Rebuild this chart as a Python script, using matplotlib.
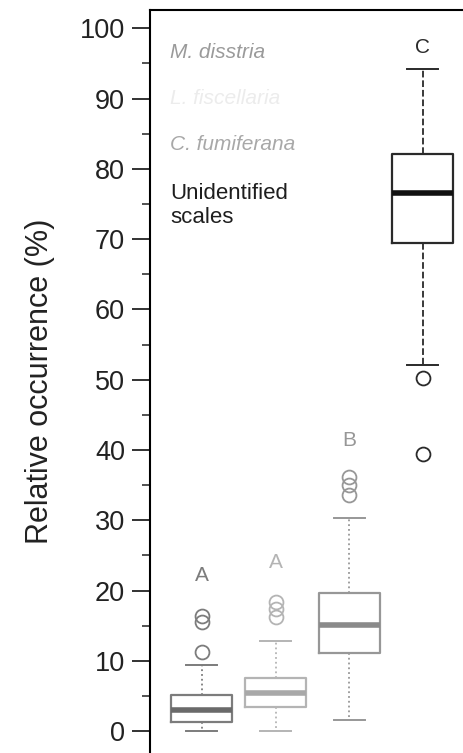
import matplotlib
matplotlib.use("Agg")
import matplotlib.pyplot as plt
from matplotlib.ticker import MultipleLocator

plt.rcParams['font.family'] = ['Liberation Sans', 'DejaVu Sans']

# box statistics (relative occurrence, %)
groups = ['M. disstria', 'L. fiscellaria', 'C. fumiferana', 'Unidentified\nscales']
q1 = [1.3, 3.4, 11.1, 69.4]
med = [3.0, 5.4, 15.1, 76.5]
q3 = [5.1, 7.5, 19.6, 82.1]
whislo = [0.1, 0.1, 1.6, 52.1]
whishi = [9.4, 12.8, 30.3, 94.2]
fliers = [[11.2, 15.6, 16.4], [16.2, 17.4, 18.4], [33.6, 35.0, 36.1], [50.2, 39.5]]
letters = ['A', 'A', 'B', 'C']
letter_y = [22.2, 24.0, 41.4, 97.3]

box_colors = ['#7c7c7c', '#b4b4b4', '#979797', '#2a2a2a']
med_colors = ['#6a6a6a', '#a8a8a8', '#8a8a8a', '#111111']
legend_colors = ['#9a9a9a', '#ececec', '#a8a8a8', '#1e1e1e']
legend_y = [96.6, 90.0, 83.4, 74.8]

fig = plt.figure(figsize=(4.64, 7.53), dpi=100)
ax = fig.add_axes([150 / 464, 0, 1 - 150 / 464, 1 - 10 / 753])

for i in range(4):
    stats = [dict(q1=q1[i], med=med[i], q3=q3[i], whislo=whislo[i],
                  whishi=whishi[i], fliers=fliers[i])]
    c = box_colors[i]
    ls = '--' if i == 3 else ':'
    ax.bxp(stats, positions=[i + 1], widths=0.83, capwidths=0.42,
           boxprops=dict(color=c, lw=1.6),
           whiskerprops=dict(color=c, lw=1.3, ls=ls),
           capprops=dict(color=c, lw=1.4),
           medianprops=dict(color=med_colors[i], lw=4),
           flierprops=dict(marker='o', markerfacecolor='none',
                           markeredgecolor=c, markersize=10, markeredgewidth=1.3))
    ax.text(i + 1, letter_y[i], letters[i], ha='center', va='center',
            fontsize=15, color=c)

for i in range(4):
    style = 'normal' if i == 3 else 'italic'
    size = 16 if i == 3 else 15
    ax.text(0.57, legend_y[i], groups[i], ha='left', va='center', fontsize=size,
            style=style, color=legend_colors[i], linespacing=1.2)

ax.set_xlim(0.295, 4.56)
ax.set_ylim(-3.1, 102.6)
ax.yaxis.set_major_locator(MultipleLocator(10))
ax.yaxis.set_minor_locator(MultipleLocator(5))
ax.tick_params(axis='y', which='major', length=13, width=1.3, labelsize=19.5,
               pad=5, colors='#222')
ax.tick_params(axis='y', which='minor', length=6, width=1.1, colors='#222')
ax.set_xticks([])
ax.spines['right'].set_visible(False)
ax.spines['bottom'].set_visible(False)
ax.spines['left'].set_linewidth(1.5)
ax.spines['top'].set_linewidth(1.5)
ax.set_ylabel('Relative occurrence (%)', fontsize=22, color='#222', labelpad=18)

fig.savefig('out.png', dpi=100)
